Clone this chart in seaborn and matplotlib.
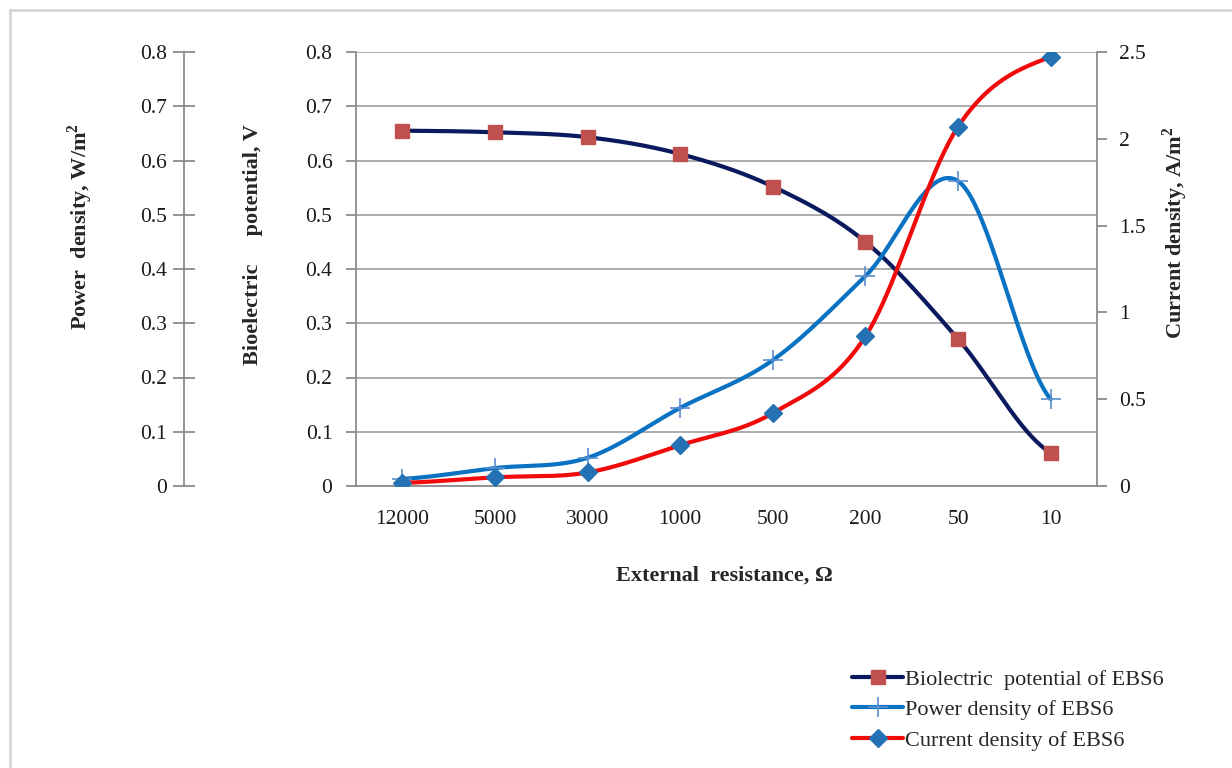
import numpy as np
import matplotlib
matplotlib.use('Agg')
import matplotlib.pyplot as plt
from matplotlib.lines import Line2D
import seaborn as sns

# данные
resistance = ['12000', '5000', '3000', '1000', '500', '200', '50', '10']
potential = [0.655, 0.652, 0.643, 0.612, 0.552, 0.450, 0.271, 0.061]   # V
power = [0.013, 0.033, 0.052, 0.144, 0.232, 0.387, 0.562, 0.160]       # W/m2
current = [0.018, 0.050, 0.078, 0.235, 0.420, 0.862, 2.070, 2.472]     # A/m2

pot_ticks = [0, 0.1, 0.2, 0.3, 0.4, 0.5, 0.6, 0.7, 0.8]
cur_ticks = [0, 0.5, 1, 1.5, 2, 2.5]

sns.set_style('white')
plt.rcParams['font.family'] = ['Liberation Serif', 'DejaVu Serif']

col_pot, col_sq = '#0B1A5E', '#C0504D'
col_pow, col_plus = '#0A72C2', '#5B8FD0'
col_cur, col_dia = '#F00A0A', '#2471B3'
grid_col = '#A6A6A6'
spine_col = '#8C8C8C'


def smooth(vals, n=40):
    # сглаживание как в Excel (Catmull-Rom)
    p = np.asarray(vals, dtype=float)
    pts = np.concatenate([[p[0]], p, [p[-1]]])
    xs, ys = [], []
    for i in range(len(p) - 1):
        p0, p1, p2, p3 = pts[i], pts[i + 1], pts[i + 2], pts[i + 3]
        t = np.linspace(0, 1, n, endpoint=(i == len(p) - 2))
        y = 0.5 * ((2 * p1) + (-p0 + p2) * t + (2 * p0 - 5 * p1 + 4 * p2 - p3) * t ** 2
                   + (-p0 + 3 * p1 - 3 * p2 + p3) * t ** 3)
        xs.append(i + t)
        ys.append(y)
    return np.concatenate(xs), np.concatenate(ys)


fig = plt.figure(figsize=(12.32, 7.68), dpi=100)
ax = fig.add_axes([356 / 1232, 1 - 486 / 768, (1097 - 356) / 1232, (486 - 52) / 768])
ax_pow = ax.twinx()
ax_cur = ax.twinx()

x = np.arange(len(resistance))

# биопотенциал
sx, sy = smooth(potential)
sns.lineplot(x=sx, y=sy, ax=ax, color=col_pot, lw=3, sort=False, estimator=None)
ax.plot(x, potential, ls='none', marker='s', ms=10, color=col_sq, mec=col_sq)

# плотность мощности
sx, sy = smooth(power)
sns.lineplot(x=sx, y=sy, ax=ax_pow, color=col_pow, lw=3, sort=False, estimator=None)
ax_pow.plot(x, power, ls='none', marker='+', ms=14, mew=1.2, color=col_plus)

# плотность тока
sx, sy = smooth(current)
sns.lineplot(x=sx, y=sy, ax=ax_cur, color=col_cur, lw=3, sort=False, estimator=None)
ax_cur.plot(x, current, ls='none', marker='D', ms=9, color=col_dia, mec=col_dia)

for a in (ax, ax_pow, ax_cur):
    a.set_xlim(-0.5, len(resistance) - 0.5)
    for s in a.spines.values():
        s.set_color(spine_col)
        s.set_linewidth(1.3)
    a.spines['top'].set_visible(False)

ax.set_ylim(0, 0.8)
ax_pow.set_ylim(0, 0.8)
ax_cur.set_ylim(0, 2.5)

tick_fs = 15.5

# оси X: деления между категориями, подписи по центру
ax.set_xticks(np.arange(-0.5, len(resistance)))
ax.set_xticklabels([])
ax.set_xticks(x, minor=True)
ax.set_xticklabels(resistance, minor=True)
ax.tick_params(axis='x', which='major', direction='out', length=7, width=1.3, color=spine_col)
ax.tick_params(axis='x', which='minor', length=0, pad=17, labelsize=tick_fs)

ax.set_yticks(pot_ticks)
ax.set_yticklabels([f'{v:g}' for v in pot_ticks])
ax.tick_params(axis='y', direction='out', length=7, width=1.3, color=spine_col, pad=10, labelsize=tick_fs)
ax.grid(axis='y', color=grid_col, lw=1.3)
ax.spines['right'].set_visible(False)

ax_pow.yaxis.set_label_position('left')
ax_pow.yaxis.tick_left()
ax_pow.spines['left'].set_position(('outward', 172 * 0.72))
ax_pow.spines['right'].set_visible(False)
ax_pow.spines['bottom'].set_visible(False)
ax_pow.set_yticks(pot_ticks)
ax_pow.set_yticklabels([f'{v:g}' for v in pot_ticks])
ax_pow.tick_params(axis='y', direction='inout', length=16, width=1.3, color=spine_col, pad=4, labelsize=tick_fs)

ax_cur.spines['left'].set_visible(False)
ax_cur.spines['bottom'].set_visible(False)
ax_cur.set_yticks(cur_ticks)
ax_cur.set_yticklabels([f'{v:g}' for v in cur_ticks])
ax_cur.tick_params(axis='y', direction='out', length=7, width=1.3, color=spine_col, pad=9, labelsize=tick_fs)

for a in (ax, ax_pow, ax_cur):
    for lab in a.get_yticklabels() + a.get_xticklabels(minor=True):
        lab.set_color('#1A1A1A')

# подписи осей
lab_fs = 16
fig.text(80 / 1232, 1 - 227 / 768, 'Power  density, W/m$^\\mathregular{2}$', rotation=90,
         ha='center', va='center', fontsize=lab_fs, fontweight='bold')
fig.text(253 / 1232, 1 - 245 / 768, 'Bioelectric     potential, V', rotation=90,
         ha='center', va='center', fontsize=lab_fs, fontweight='bold')
fig.text(1175 / 1232, 1 - 233 / 768, 'Current density, A/m$^\\mathregular{2}$', rotation=90,
         ha='center', va='center', fontsize=lab_fs, fontweight='bold')
fig.text(724 / 1232, 1 - 576 / 768, 'External  resistance, \u03a9',
         ha='center', va='center', fontsize=lab_fs, fontweight='bold')

# легенда
handles = [
    Line2D([], [], color=col_pot, lw=3, marker='s', ms=10, mfc=col_sq, mec=col_sq),
    Line2D([], [], color=col_pow, lw=3, marker='+', ms=14, mew=1.2, mec=col_plus),
    Line2D([], [], color=col_cur, lw=3, marker='D', ms=9, mfc=col_dia, mec=col_dia),
]
labels = ['Biolectric  potential of EBS6', 'Power density of EBS6', 'Current density of EBS6']
fig.legend(handles, labels, loc='upper left', bbox_to_anchor=(852 / 1232, 1 - 669 / 768),
           frameon=False, fontsize=16, handlelength=2.3, handletextpad=0.1,
           labelspacing=0.45, borderaxespad=0, borderpad=0)

# рамка области диаграммы
fig.add_artist(Line2D([10 / 1232, 1], [1 - 9.5 / 768] * 2, transform=fig.transFigure,
                      color='#D6D6D6', lw=2))
fig.add_artist(Line2D([10 / 1232] * 2, [1 - 9.5 / 768, 0], transform=fig.transFigure,
                      color='#D6D6D6', lw=2))

fig.savefig('out.png', dpi=100)
